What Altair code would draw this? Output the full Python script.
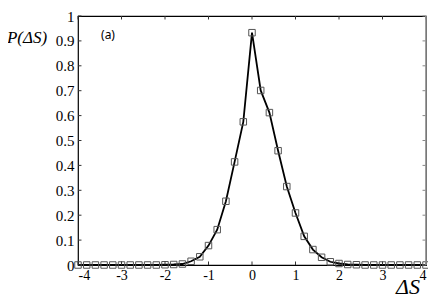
import altair as alt
import pandas as pd

# ---- data ----
delta_s = [-4.0, -3.8, -3.6, -3.4, -3.2, -3.0, -2.8, -2.6, -2.4, -2.2,
           -2.0, -1.8, -1.6, -1.4, -1.2, -1.0, -0.8, -0.6, -0.4, -0.2,
           0.0, 0.2, 0.4, 0.6, 0.8, 1.0, 1.2, 1.4, 1.6, 1.8,
           2.0, 2.2, 2.4, 2.6, 2.8, 3.0, 3.2, 3.4, 3.6, 3.8, 4.0]
p_delta_s = [0.0, 0.0, 0.0, 0.0, 0.0, 0.0, 0.0, 0.0, 0.0, 0.0,
             0.001, 0.002, 0.004, 0.015, 0.033, 0.078, 0.142, 0.256, 0.414, 0.575,
             0.933, 0.701, 0.612, 0.459, 0.315, 0.209, 0.115, 0.062, 0.031, 0.013,
             0.006, 0.002, 0.001, 0.0, 0.0, 0.0, 0.0, 0.0, 0.0, 0.0, 0.0]
x_ticks = [-4, -3, -2, -1, 0, 1, 2, 3, 4]
y_ticks = [0, 0.1, 0.2, 0.3, 0.4, 0.5, 0.6, 0.7, 0.8, 0.9, 1]

df = pd.DataFrame({"x": delta_s, "y": p_delta_s})
xt = pd.DataFrame({"t": x_ticks})
yt = pd.DataFrame({"t": y_ticks})

SERIF = "Times New Roman, Liberation Serif, DejaVu Serif, serif"
xscale = alt.Scale(domain=[-4, 4], nice=False, zero=False)
yscale = alt.Scale(domain=[0, 1], nice=False, zero=False)

xaxis = alt.Axis(values=x_ticks, labelExpr="'' + datum.value", ticks=False, domain=False,
                 grid=False, title=None, labelFont=SERIF, labelFontSize=14,
                 labelColor="black", labelPadding=3, labelOverlap=False)
yaxis = alt.Axis(values=y_ticks, labelExpr="'' + datum.value", ticks=False, domain=False,
                 grid=False, title=None, labelFont=SERIF, labelFontSize=15,
                 labelColor="black", labelPadding=4, labelOverlap=False)


def X(f):
    return alt.X(f, scale=xscale, axis=xaxis, title=None)


def Y(f):
    return alt.Y(f, scale=yscale, axis=yaxis, title=None)


def xd(v):
    return alt.XDatum(v, scale=xscale, axis=xaxis, title=None)


def yd(v):
    return alt.YDatum(v, scale=yscale, axis=yaxis, title=None)


base = alt.Chart(df)

line = base.mark_line(color="black", strokeWidth=1.8).encode(x=X("x:Q"), y=Y("y:Q"))
pts = base.mark_point(shape="square", size=42, filled=False, color="#555555",
                      strokeWidth=1, opacity=1).encode(x=X("x:Q"), y=Y("y:Q"))

tick_color = "#333333"
bottom_ticks = alt.Chart(xt).mark_rule(color=tick_color, strokeWidth=1).encode(
    x=X("t:Q"), y=yd(0), y2=alt.datum(0.014))
top_ticks = alt.Chart(xt).mark_rule(color=tick_color, strokeWidth=1).encode(
    x=X("t:Q"), y=yd(1), y2=alt.datum(0.986))
left_ticks = alt.Chart(yt).mark_rule(color=tick_color, strokeWidth=1).encode(
    y=Y("t:Q"), x=xd(-4), x2=alt.datum(-3.92))
right_ticks = alt.Chart(yt).mark_rule(color="#888888", strokeWidth=1).encode(
    y=Y("t:Q"), x=xd(4), x2=alt.datum(3.92))
right_border = alt.Chart(pd.DataFrame({"a": [0]})).mark_rule(
    color="#999999", strokeWidth=1.5).encode(x=xd(4), y=yd(0), y2=alt.datum(1))

ann = pd.DataFrame({"a": [0]})
ytitle = alt.Chart(ann).mark_text(text="P(ΔS)", font=SERIF, fontStyle="italic",
                                  fontSize=17, color="black", align="center",
                                  baseline="middle").encode(
    x=alt.value(-51), y=alt.value(22))
panel = alt.Chart(ann).mark_text(text="(a)", font="Noto Sans", fontSize=12,
                                 color="black", align="center",
                                 baseline="middle").encode(
    x=alt.value(30), y=alt.value(19))
xtitle = alt.Chart(ann).mark_text(text="ΔS", font=SERIF, fontStyle="italic",
                                  fontSize=22, color="black", align="center",
                                  baseline="middle").encode(
    x=alt.value(330), y=alt.value(271))

chart = alt.layer(
    line, pts, bottom_ticks, top_ticks, left_ticks, right_ticks, right_border,
    ytitle, panel, xtitle
).properties(
    width=348, height=249,
    autosize=alt.AutoSizeParams(type="none"),
    padding={"left": 70, "top": 8, "right": 2, "bottom": 34},
    background="white",
).configure_view(stroke="black", strokeWidth=1.2
).configure_axis(labelFont=SERIF, labelColor="black")

chart.save("out.html", embed_options={"renderer": "svg", "actions": False})
